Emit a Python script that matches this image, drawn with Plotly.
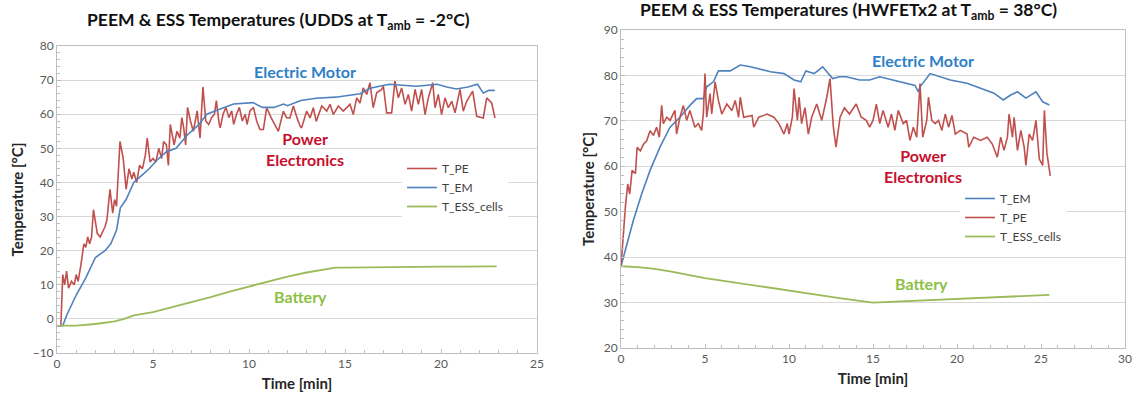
import plotly.graph_objects as go

# ---------------- Left chart (UDDS at Tamb = -2 C) ----------------
L_pe_t = [0, 0.2, 0.3, 0.4, 0.5, 0.6, 0.75, 0.9, 1.0, 1.1, 1.25, 1.4, 1.5, 1.6, 1.7, 1.8, 1.9, 2.0, 2.1, 2.25,
          2.4, 2.5, 2.6, 2.76, 2.9, 3.0, 3.1, 3.28, 3.45, 3.6, 3.75, 3.9, 4.0, 4.15, 4.3, 4.45, 4.6, 4.7, 4.85, 5.0,
          5.15, 5.3, 5.45, 5.55, 5.7, 5.8, 5.9, 6.0, 6.1, 6.25, 6.4, 6.5, 6.6, 6.7, 6.8, 6.95, 7.1, 7.3, 7.45, 7.6,
          7.75, 7.9, 8.05, 8.2, 8.3, 8.45, 8.5, 8.65, 8.8, 8.95, 9.1, 9.2, 9.35, 9.5, 9.65, 9.8, 9.9, 10.05, 10.23,
          10.4, 10.57, 10.75, 10.92, 11.15, 11.35, 11.53, 11.79, 11.95, 12.13, 12.31, 12.5, 12.66, 12.74, 13.0,
          13.18, 13.35, 13.5, 13.79, 14.05, 14.22, 14.39, 14.65, 14.91, 15.09, 15.26, 15.43, 15.61, 15.78, 15.95,
          16.13, 16.3, 16.47, 16.65, 16.91, 17.0, 17.17, 17.43, 17.6, 17.78, 17.95, 18.13, 18.3, 18.47, 18.65,
          18.82, 18.99, 19.17, 19.34, 19.57, 19.69, 19.86, 20.03, 20.21, 20.38, 20.56, 20.73, 20.99, 21.16, 21.34,
          21.65, 21.86, 22.2, 22.38, 22.64, 22.81]
L_pe_v = [-2, -2, 13, 10, 14, 9, 11, 10, 13, 11, 16, 22, 21, 24, 22, 24, 32, 28, 25, 24,
          26, 27, 29, 38, 31, 35, 33, 52, 47, 38, 44, 41, 43, 40, 45, 44, 48, 53, 46, 47,
          46, 50, 47, 52, 51, 45, 57, 54, 51, 55, 53, 59, 56, 51, 62, 58, 55, 61, 53, 68,
          58, 57, 59, 60, 64, 57, 56, 60, 62, 59, 61, 57, 60, 62, 58, 60, 57, 61, 62,
          58, 55.5, 55.5, 61.9, 59, 57, 55, 60.9, 59, 58.9, 62.4, 59, 56.5, 56, 60.9,
          58.9, 61.9, 57.9, 62.4, 60.9, 62.9, 59.9, 62.4, 60.9, 61.9, 62.9, 59.9, 64.8, 63.3, 67.7,
          65.8, 69.2, 61.9, 66.3, 67.3, 68.2, 60.4, 60.4, 69.7, 64.8, 67.7, 62.9, 65.8, 60.9, 67.3,
          62.9, 67.3, 59.9, 64.8, 69.2, 61.9, 65.8, 59.9, 64.8, 61.9, 63.8, 60.4, 67.3, 60.9, 63.8,
          66.8, 59.4, 58.9, 64.8, 63.3, 58.9]

L_em_t = [0, 0.3, 0.5, 1.0, 1.5, 2.0, 2.5, 2.8, 3.1, 3.3, 3.6, 4.0, 4.4, 4.8, 5.2, 5.7, 6.2, 6.8, 7.4, 7.8,
          8.5, 9.2, 10.2, 10.7, 11.3, 11.8, 12.0, 12.7, 13.5, 14.5, 15.8, 16.3, 17.3, 18.0, 18.7, 19.3, 19.8,
          20.3, 20.8, 21.4, 21.9, 22.2, 22.5, 22.8]
L_em_v = [-2, -2, 1, 7, 12, 18, 20, 22, 26, 32.6, 35, 40, 42, 44, 46.5, 49, 50, 54, 57, 60,
          61.5, 63, 63.4, 62, 62, 63, 62.5, 64, 64.7, 65, 66, 67.6, 68.8, 68.4, 68.2, 68.5, 68.8,
          68, 67.4, 68, 68.8, 66.2, 67, 67]

L_ess_t = [0, 1, 2, 3, 3.5, 4, 5, 6, 7, 8, 9, 10, 11, 12, 13, 14, 14.5, 15, 16, 17, 18, 19, 20, 21, 22, 22.9]
L_ess_v = [-2, -2, -1.5, -0.7, 0, 1, 2, 3.4, 4.8, 6.4, 8, 9.5, 11, 12.4, 13.6, 14.6, 15, 15, 15.1, 15.2,
           15.2, 15.3, 15.3, 15.3, 15.4, 15.4]

# ---------------- Right chart (HWFETx2 at Tamb = 38 C) ----------------
R_em_t = [0, 0.3, 0.73, 1.23, 1.73, 2.32, 2.92, 3.51, 4.1, 4.5, 4.9, 5.1, 5.5, 5.8, 6.5, 7.1, 7.7, 8.9, 9.7,
          10.3, 10.7, 11.0, 11.5, 12.0, 12.6, 13.0, 13.4, 14.2, 14.8, 15.4, 16.6, 17.5, 17.7, 17.8, 18.4,
          19.6, 20.6, 21.4, 22.2, 22.75, 23.2, 23.6, 24.1, 24.7, 25.1, 25.5]
R_em_v = [38, 42, 48, 53.9, 59.1, 64.2, 68.6, 70.8, 73.4, 74.9, 74.9, 77.5, 78.6, 81, 81, 82.3, 81.9, 80.8,
          80.4, 79, 78.6, 81, 80.4, 81.9, 79.3, 79.7, 79.7, 79, 79, 79.7, 78.6, 77.8, 76.4, 77.5, 80.4,
          79, 78.3, 77.2, 76.1, 74.6, 75.7, 76.4, 75, 76.4, 74.2, 73.5]

R_pe_t = [0, 0.1, 0.26, 0.4, 0.52, 0.66, 0.86, 0.96, 1.15, 1.35, 1.53, 1.73, 1.93, 2.12, 2.28, 2.42, 2.52,
          2.72, 2.92, 3.21, 3.31, 3.51, 3.71, 3.91, 4.1, 4.4, 4.6, 4.8, 4.9, 5.0, 5.1, 5.3, 5.4, 5.6, 5.8,
          6.0, 6.3, 6.6, 6.8, 7.0, 7.1, 7.3, 7.8, 7.9, 8.2, 8.7, 9.1, 9.4, 9.7, 9.9, 10.0, 10.2, 10.3, 10.5,
          10.6, 10.75, 10.95, 11.15, 11.35, 11.65, 11.95, 12.25, 12.44, 12.64, 12.8, 13.04, 13.3, 13.6,
          14.0, 14.3, 14.6, 14.8, 15.0, 15.2, 15.4, 15.6, 15.9, 16.1, 16.3, 16.5, 16.8, 17.0, 17.2, 17.4,
          17.6, 17.8, 17.96, 18.2, 18.3, 18.5, 18.7, 18.9, 19.1, 19.3, 19.5, 19.7, 19.9, 20.2, 20.6, 20.7,
          21.0, 21.4, 21.8, 22.1, 22.4, 22.6, 22.8, 23.0, 23.1, 23.3, 23.4, 23.6, 23.8, 24.0, 24.1, 24.3,
          24.5, 24.7, 24.9, 25.1, 25.2, 25.35, 25.55]
R_pe_v = [38, 44, 51, 56.1, 53.9, 59.1, 58.4, 64.2, 63.4, 64.9, 65.6, 67.8, 66.8, 68.6, 66.4, 73.4, 69.4,
          70.8, 70.1, 72.3, 67.1, 70.8, 73.4, 70.1, 72.3, 68.6, 69.4, 67.9, 71.5, 80.4, 70.8, 76, 71.5, 78.6,
          74.5, 71.5, 73.7, 72.3, 74.5, 70.8, 75.2, 70.8, 71.2, 68.6, 70.8, 71.5, 70.8, 69.4, 67.1, 69.4,
          67.1, 70.8, 77.1, 70.1, 75.2, 69.4, 72.9, 67.1, 70.8, 73.7, 70.1, 75.2, 79.3, 68.6, 64.2, 70.8,
          72.9, 71.5, 73.7, 70.8, 70.1, 68.6, 70.1, 73.7, 69.4, 72.3, 68.6, 71.5, 67.9, 72.3, 69.4, 70.1,
          65.7, 68.6, 66.4, 78.2, 66.4, 70.1, 75.2, 70.1, 69.4, 70.1, 67.9, 71.5, 68.6, 71.2, 67.1, 67.9,
          67.1, 64.2, 66.4, 65.7, 66.4, 64.9, 62, 66.4, 63.5, 66.4, 71.5, 66.4, 70.8, 63.5, 67.9, 64.2,
          60.2, 67.1, 65.7, 70.1, 61.6, 60.2, 72.3, 63, 57.9]

R_ess_t = [0, 1, 2, 3, 5, 7.5, 10, 13, 15, 17, 20, 23, 25.5]
R_ess_v = [38, 37.8, 37.4, 36.8, 35.4, 34, 32.7, 31, 30, 30.3, 30.8, 31.3, 31.7]

C_PE, C_EM, C_ESS = "#C0504D", "#4F81BD", "#9BBB59"
FONT = "Lato"
W, H = 1136, 401

def px(x):
    return x / W

def py(y):
    return 1 - y / H

fig = go.Figure()
# left (legend order: T_PE, T_EM, T_ESS_cells)
fig.add_trace(go.Scatter(x=L_pe_t, y=L_pe_v, name="T_PE", mode="lines", line=dict(color=C_PE, width=1.6),
                         xaxis="x", yaxis="y", legend="legend"))
fig.add_trace(go.Scatter(x=L_em_t, y=L_em_v, name="T_EM", mode="lines", line=dict(color=C_EM, width=1.6),
                         xaxis="x", yaxis="y", legend="legend"))
fig.add_trace(go.Scatter(x=L_ess_t, y=L_ess_v, name="T_ESS_cells", mode="lines",
                         line=dict(color=C_ESS, width=1.8), xaxis="x", yaxis="y", legend="legend"))
# right (legend order: T_EM, T_PE, T_ESS_cells)
fig.add_trace(go.Scatter(x=R_em_t, y=R_em_v, name="T_EM", mode="lines", line=dict(color=C_EM, width=1.6),
                         xaxis="x2", yaxis="y2", legend="legend2"))
fig.add_trace(go.Scatter(x=R_pe_t, y=R_pe_v, name="T_PE", mode="lines", line=dict(color=C_PE, width=1.6),
                         xaxis="x2", yaxis="y2", legend="legend2"))
fig.add_trace(go.Scatter(x=R_ess_t, y=R_ess_v, name="T_ESS_cells", mode="lines",
                         line=dict(color=C_ESS, width=1.8), xaxis="x2", yaxis="y2", legend="legend2"))

tickfont = dict(family=FONT, size=12, color="#595959")
titlefont = dict(family=FONT, size=15, color="#262626")

def xax(domain, rng, anchor):
    return dict(domain=domain, range=rng, anchor=anchor, dtick=5, showgrid=False, zeroline=False,
                automargin=False,
                showline=True, linecolor="#BFBFBF", linewidth=1, mirror=True,
                ticks="inside", ticklen=4, tickcolor="#BFBFBF",
                minor=dict(dtick=1, ticks="inside", ticklen=3, tickcolor="#BFBFBF"),
                tickfont=tickfont, title=dict(text="<b>Time [min]</b>", font=titlefont, standoff=8))

def yax(domain, rng, anchor):
    return dict(domain=domain, range=rng, anchor=anchor, dtick=10, showgrid=True, gridcolor="#D9D9D9",
                automargin=False,
                zeroline=False, showline=True, linecolor="#BFBFBF", linewidth=1, mirror=True,
                ticks="inside", ticklen=4, tickcolor="#BFBFBF",
                minor=dict(dtick=2, ticks="inside", ticklen=3, tickcolor="#BFBFBF", showgrid=False),
                tickfont=tickfont, title=dict(text="<b>Temperature [°C]</b>", font=titlefont, standoff=5))

fig.update_layout(
    width=W, height=H, margin=dict(l=0, r=0, t=0, b=0, autoexpand=False),
    paper_bgcolor="white", plot_bgcolor="white",
    xaxis=xax([px(57), px(537)], [0, 25], "y"),
    yaxis=yax([py(353), py(46)], [-10, 80], "x"),
    xaxis2=xax([px(621), px(1125)], [0, 30], "y2"),
    yaxis2=yax([py(348), py(30)], [20, 90], "x2"),
    legend=dict(x=px(402), y=py(154), xanchor="left", yanchor="top", bgcolor="white",
                font=dict(family=FONT, size=12, color="#404040"), itemwidth=30, tracegroupgap=0),
    legend2=dict(x=px(960), y=py(184), xanchor="left", yanchor="top", bgcolor="white",
                 font=dict(family=FONT, size=12, color="#404040"), itemwidth=30, tracegroupgap=0),
    showlegend=True,
)

ann = [
    dict(text="<b>PEEM &amp; ESS Temperatures (UDDS at T<sub>amb</sub> = -2°C)</b>", x=px(278), y=py(21),
         xref="paper", yref="paper", font=dict(family=FONT, size=17.5, color="#111111")),
    dict(text="<b>PEEM &amp; ESS Temperatures (HWFETx2 at T<sub>amb</sub> = 38°C)</b>", x=px(848), y=py(11),
         xref="paper", yref="paper", font=dict(family=FONT, size=17.5, color="#111111")),
    dict(text="<b>Electric Motor</b>", x=12.9, y=72.6, xref="x", yref="y",
         font=dict(family=FONT, size=16, color="#2E7FC7")),
    dict(text="<b>Power<br>Electronics</b>", x=12.9, y=49.7, xref="x", yref="y",
         font=dict(family=FONT, size=16, color="#C8102E")),
    dict(text="<b>Battery</b>", x=12.66, y=6.5, xref="x", yref="y",
         font=dict(family=FONT, size=16, color="#8CC043")),
    dict(text="<b>Electric Motor</b>", x=17.98, y=83.2, xref="x2", yref="y2",
         font=dict(family=FONT, size=16, color="#2E7FC7")),
    dict(text="<b>Power<br>Electronics</b>", x=17.98, y=60, xref="x2", yref="y2",
         font=dict(family=FONT, size=16, color="#C8102E")),
    dict(text="<b>Battery</b>", x=17.9, y=34.1, xref="x2", yref="y2",
         font=dict(family=FONT, size=16, color="#8CC043")),
]
for a in ann:
    a.update(showarrow=False, xanchor="center", yanchor="middle")
fig.update_layout(annotations=ann)

fig.write_html("out.html", config={"displayModeBar": False},
               post_script="document.body.style.margin='0';document.body.style.padding='0';")
